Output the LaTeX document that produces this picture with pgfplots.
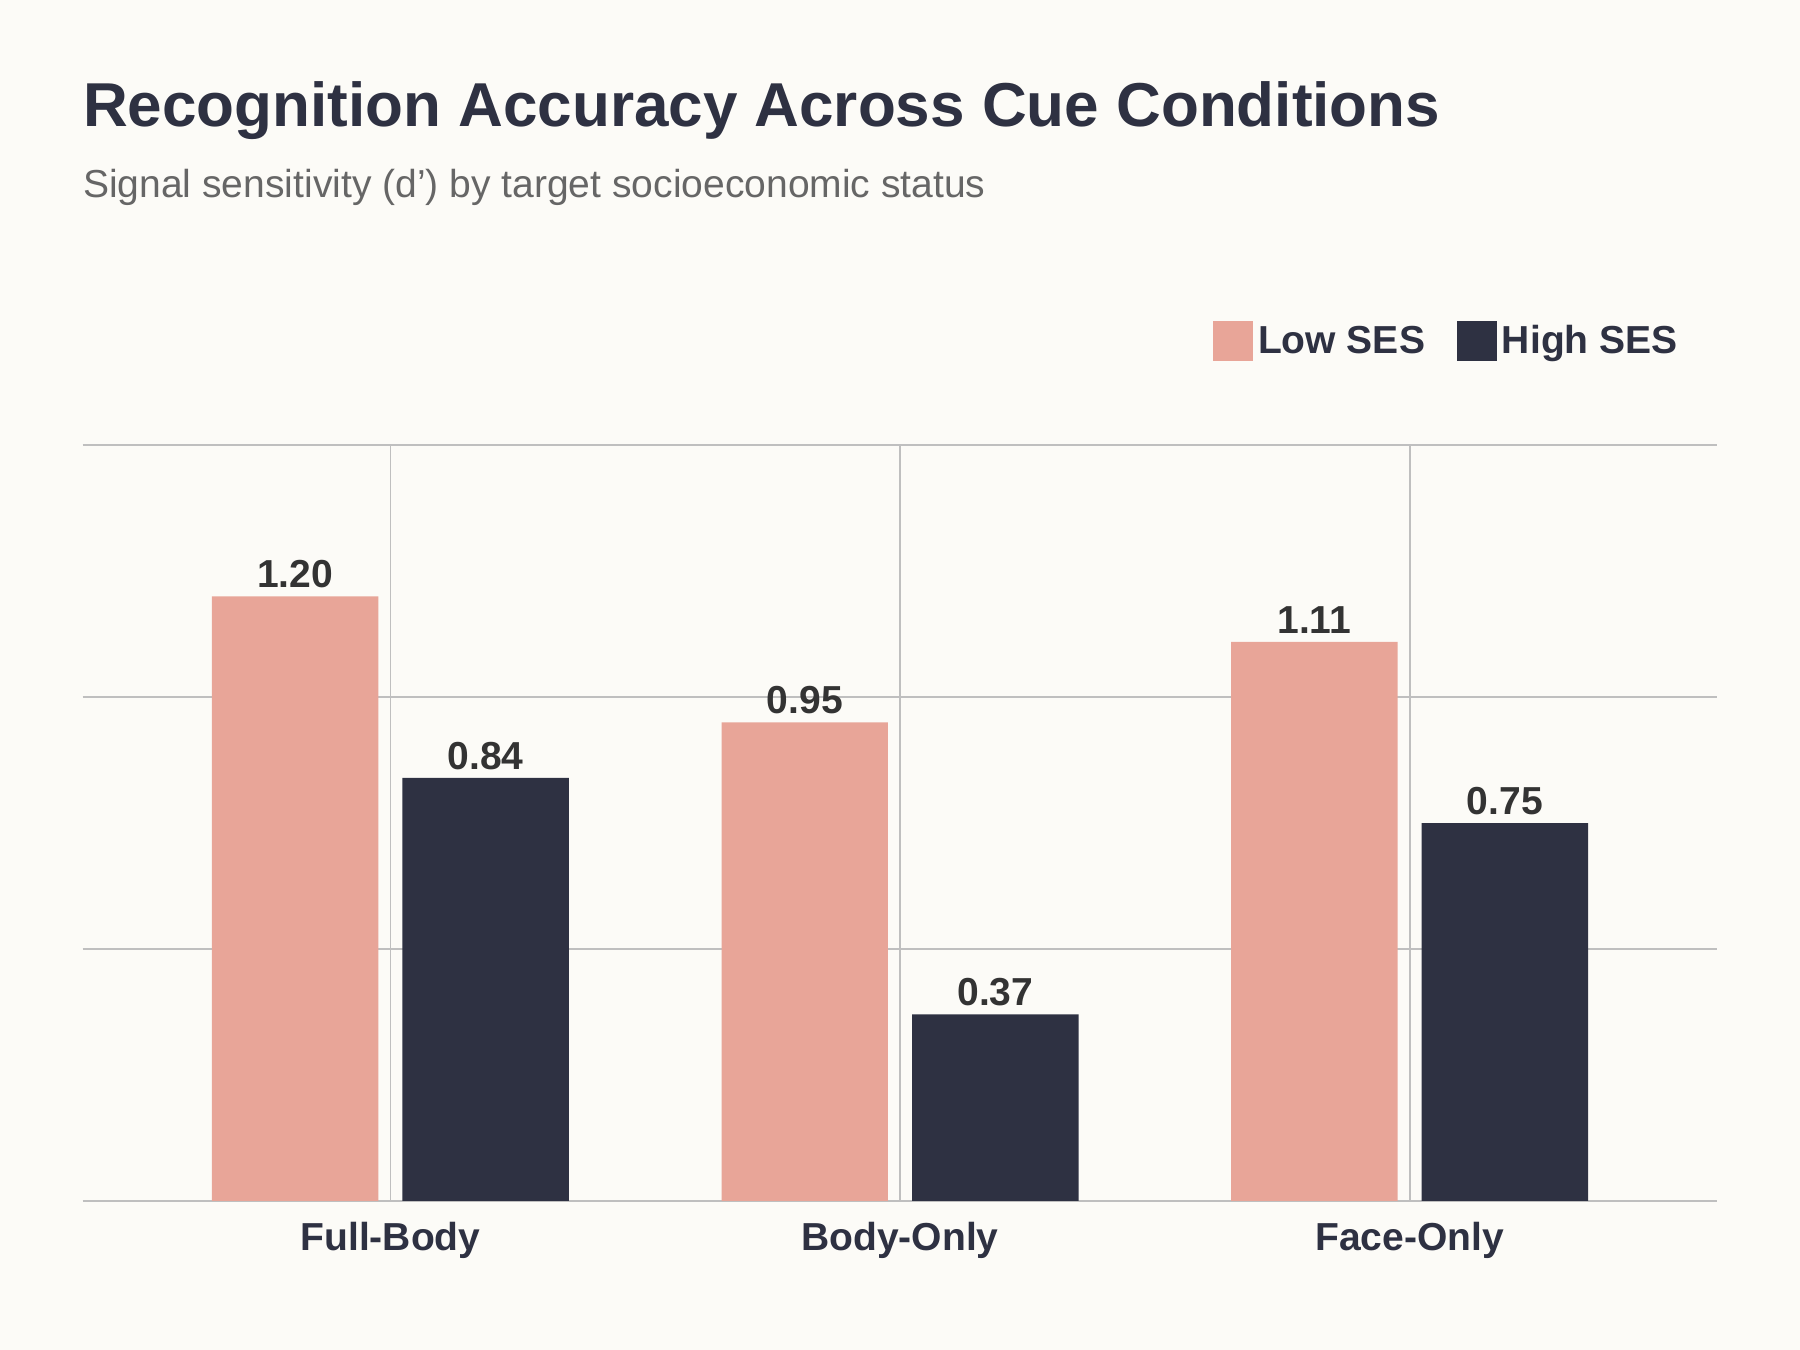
\documentclass[border=0pt]{standalone}
\usepackage{pgfplots}
\pgfplotsset{compat=1.18}
\usepackage{fontspec}
\setmainfont{Liberation Sans}
\definecolor{bg}{HTML}{FCFBF7}
\definecolor{lowc}{HTML}{E8A598}
\definecolor{highc}{HTML}{2E3142}
\definecolor{sub}{HTML}{666666}
\definecolor{grid}{HTML}{E0E0E0}
\definecolor{val}{HTML}{333333}
\begin{document}
\begin{tikzpicture}[x=1pt,y=1pt]
\fill[bg] (0,0) rectangle (784,588);
\node[anchor=base west,inner sep=0,text=highc,font=\fontsize{27}{30}\selectfont\bfseries] at (36,533) {Recognition Accuracy Across Cue Conditions};
\node[anchor=base west,inner sep=0,text=sub,font=\fontsize{17}{20}\selectfont] at (36,502) {Signal sensitivity (d') by target socioeconomic status};
\begin{axis}[at={(36pt,65pt)},anchor=south west,
  width=712pt,height=329pt,scale only axis,
  xmin=-0.604,xmax=2.604,ymin=0,ymax=1.5,
  axis line style={draw=none},
  ytick={0,0.5,1,1.5},yticklabels={},
  ymajorgrids,grid style={grid,line width=0.8pt},
  major tick length=0pt,
  xtick=data,xticklabels={Full-Body,Body-Only,Face-Only},
  xticklabel style={font=\fontsize{17}{20}\selectfont\bfseries,text=highc,yshift=-6pt},
  ybar,bar width=72.5pt,
  nodes near coords,
  nodes near coords style={font=\fontsize{17}{20}\selectfont\bfseries,text=val,/pgf/number format/fixed,/pgf/number format/fixed zerofill,/pgf/number format/precision=2,/pgf/number format/assume math mode=true},
  legend style={at={(0.983,1.138)},anchor=east,draw=none,fill=none,legend columns=2,font=\fontsize{17}{20}\selectfont\bfseries,text=highc,/tikz/every even column/.append style={column sep=12pt}},
  legend image code/.code={\fill[#1] (0pt,-8.75pt) rectangle (17.5pt,8.75pt);},
]
\addplot[fill=lowc,draw=none,bar shift=-41.5pt] coordinates {(0,1.20) (1,0.95) (2,1.11)};
\addplot[fill=highc,draw=none,bar shift=41.5pt] coordinates {(0,0.84) (1,0.37) (2,0.75)};
\legend{Low SES,High SES}
\end{axis}
\end{tikzpicture}
\end{document}
